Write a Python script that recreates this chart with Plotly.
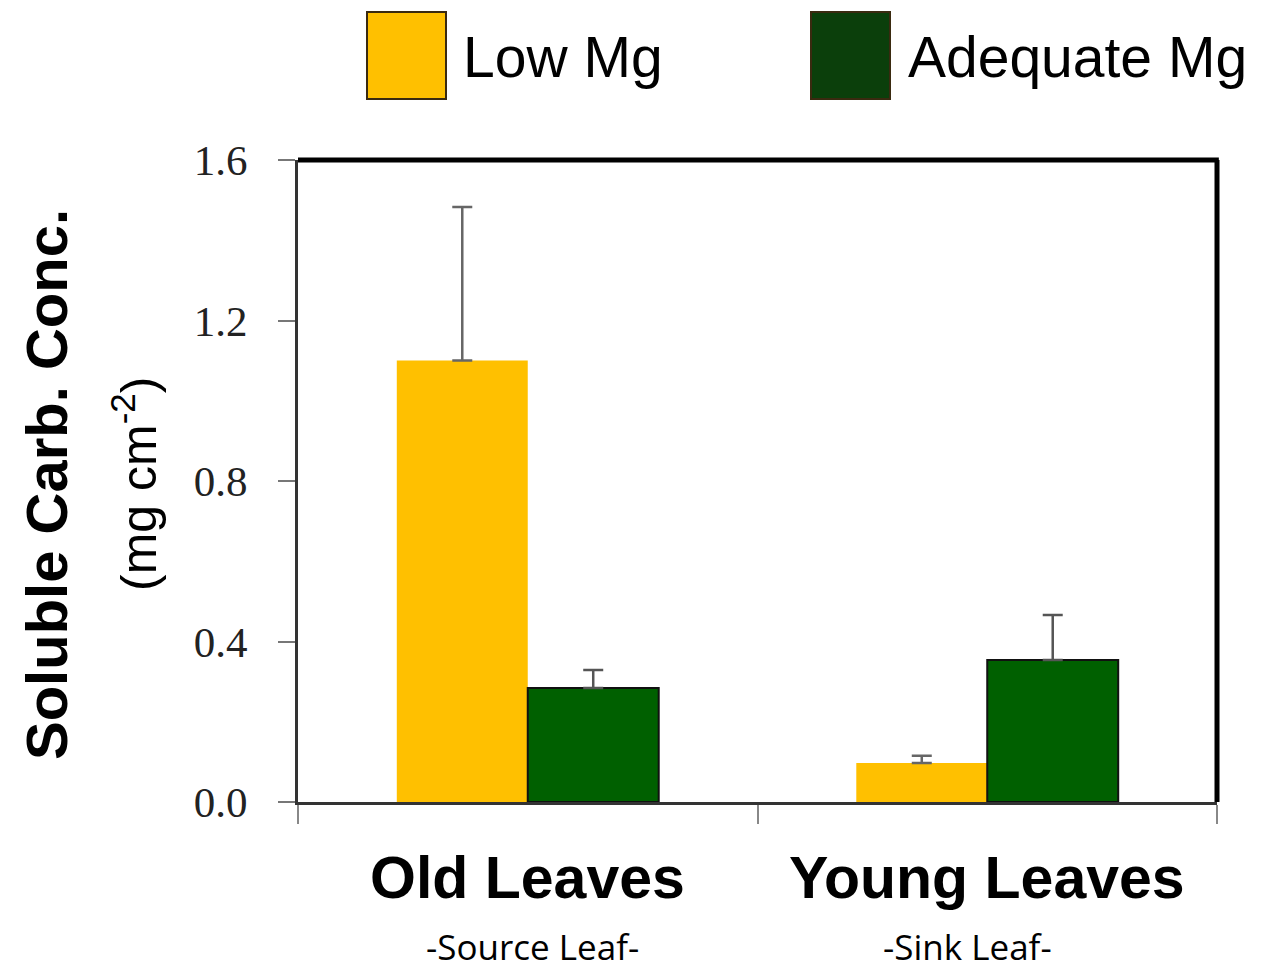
import plotly.graph_objects as go

categories = ["Old Leaves", "Young Leaves"]
subtitles = ["-Source Leaf-", "-Sink Leaf-"]
series_names = ["Low Mg", "Adequate Mg"]
low_mg = [1.10, 0.097]
low_mg_err = [0.383, 0.018]
adequate_mg = [0.284, 0.354]
adequate_mg_err = [0.045, 0.112]
y_ticks = [0.0, 0.4, 0.8, 1.2, 1.6]
y_tick_labels = ["0.0", "0.4", "0.8", "1.2", "1.6"]

bar_colors = ["#FFC000", "#006000"]
legend_colors = ["#FFC000", "#0B3F0B"]

fig = go.Figure()
fig.add_trace(go.Bar(
    x=categories, y=low_mg, name=series_names[0],
    marker=dict(color=bar_colors[0], line=dict(color=bar_colors[0], width=0)),
    error_y=dict(type="data", array=low_mg_err, symmetric=False, arrayminus=[0, 0],
                 color="#666666", thickness=2.5, width=10),
))
fig.add_trace(go.Bar(
    x=categories, y=adequate_mg, name=series_names[1],
    marker=dict(color=bar_colors[1], line=dict(color="#111111", width=2)),
    error_y=dict(type="data", array=adequate_mg_err, symmetric=False, arrayminus=[0, 0],
                 color="#555555", thickness=2.5, width=10),
))

# page has an 8px body margin: compensate so the plot lands on the reference pixels
OFF = 8
W, H = 1263 - OFF, 969 - OFF
L = 298 - OFF
T = 160 - OFF
B = H - (802 - OFF)
R = W - (1217 - OFF)

fig.update_layout(
    width=W, height=H,
    margin=dict(l=L, r=R, t=T, b=B, pad=0),
    paper_bgcolor="white", plot_bgcolor="white",
    barmode="group", bargap=0.43, bargroupgap=0,
    showlegend=False,
    xaxis=dict(
        showticklabels=False, tickson="boundaries", ticks="outside",
        ticklen=19, tickwidth=1.5, tickcolor="#888888",
        showline=True, linecolor="#333333", linewidth=3,
        showgrid=False, zeroline=False,
    ),
    yaxis=dict(
        range=[0, 1.6], tickvals=y_ticks, ticktext=y_tick_labels,
        ticks="outside", ticklen=17, tickwidth=2, tickcolor="#777777",
        tickfont=dict(family="Liberation Serif", size=43, color="#222222"),
        ticklabelstandoff=22,
        showline=True, linecolor="#333333", linewidth=3,
        showgrid=False, zeroline=False,
    ),
)

# top and right frame lines (thicker black)
fig.add_shape(type="line", xref="paper", yref="paper", x0=0, x1=1.002, y0=1, y1=1,
              line=dict(color="black", width=5))
fig.add_shape(type="line", xref="paper", yref="paper", x0=1, x1=1, y0=0, y1=1,
              line=dict(color="black", width=5))

pw, ph = W - L - R, H - T - B
def px(xpage): return (xpage - OFF - L) / pw
def py(ypage): return (H - B - (ypage - OFF)) / ph

# x category labels
for i, c in enumerate(categories):
    fig.add_annotation(x=c, xref="x", y=py(878), yref="paper", text="<b>%s</b>" % c,
                       showarrow=False, xanchor="center", yanchor="middle",
                       font=dict(family="Liberation Sans", size=59, color="black"))
sub_shift = [5, -20]
for i, c in enumerate(categories):
    fig.add_annotation(x=c, xref="x", y=py(946), yref="paper", text=subtitles[i],
                       showarrow=False, xanchor="center", yanchor="middle", xshift=sub_shift[i],
                       font=dict(family="Open Sans", size=35, color="black"))

# y axis title (two lines)
fig.add_annotation(x=px(46), xref="paper", y=py(485), yref="paper",
                   text="<b>Soluble Carb. Conc.</b>", textangle=-90, showarrow=False,
                   xanchor="center", yanchor="middle",
                   font=dict(family="Liberation Sans", size=58, color="black"))
fig.add_annotation(x=px(135), xref="paper", y=py(484), yref="paper",
                   text="(mg cm<sup>-2</sup>)", textangle=-90, showarrow=False,
                   xanchor="center", yanchor="middle",
                   font=dict(family="Liberation Sans", size=50, color="black"))

# legend boxes and labels
legend_box_x = [367, 811]
legend_text_x = [461, 906]
for i, name in enumerate(series_names):
    fig.add_shape(type="rect", xref="paper", yref="paper",
                  x0=px(legend_box_x[i]), x1=px(legend_box_x[i] + 79),
                  y0=py(99), y1=py(12),
                  fillcolor=legend_colors[i], line=dict(color="#3a2a10", width=2))
    fig.add_annotation(x=px(legend_text_x[i]), xref="paper", y=py(57), yref="paper",
                       text=name, showarrow=False, xanchor="left", yanchor="middle",
                       font=dict(family="Liberation Sans", size=57, color="black"))

fig.write_html("out.html")
